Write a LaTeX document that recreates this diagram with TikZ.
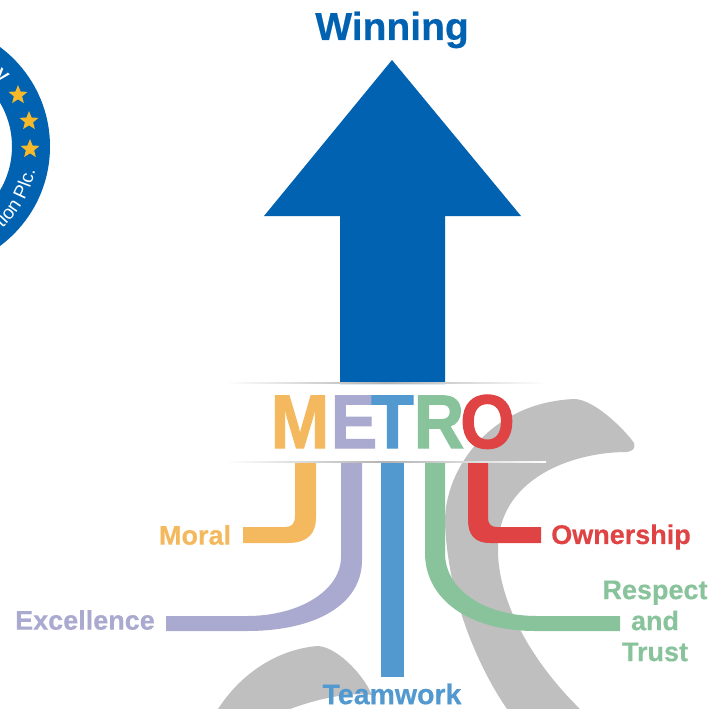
\documentclass[tikz,border=0pt]{standalone}
\usepackage{fontspec}
\setmainfont{Liberation Sans}
\newfontfamily\heavyfont{Liberation Sans Bold}[FakeBold=1.6]
\newfontfamily\labelfont{Liberation Sans Bold}[FakeBold=0.5]
\usetikzlibrary{shapes.geometric,decorations.text}
\definecolor{mblue}{HTML}{0062B0}
\definecolor{mgray}{HTML}{BFBFBF}
\definecolor{morange}{HTML}{F4B95F}
\definecolor{mpurple}{HTML}{AAA9D0}
\definecolor{msteel}{HTML}{5299D0}
\definecolor{mgreen}{HTML}{89C39C}
\definecolor{mred}{HTML}{DF4343}
\definecolor{mstar}{HTML}{F5B92B}
\tikzset{
  lab/.style={font=\labelfont\fontsize{27}{31}\selectfont,inner sep=0pt,align=center},
  letter/.style={font=\heavyfont\fontsize{76}{78}\selectfont,inner sep=0pt,anchor=base,xscale=0.92},
  staricon/.style={star,star points=5,star point ratio=2.3,fill=mstar,inner sep=0pt,minimum size=20pt}
}
\begin{document}
\begin{tikzpicture}[x=1pt,y=-1pt]
\useasboundingbox (0,0) rectangle (710,709);
% grey swooshes
\fill[mgray] (445,523) .. controls (444,470) and (490,402) .. (575,399)
  .. controls (595,400) and (625,430) .. (634,443)
  .. controls (636,449) and (632,451) .. (627,452)
  .. controls (570,452) and (497,480) .. (498,550)
  .. controls (498,600) and (530,660) .. (580,709)
  -- (507,709) .. controls (480,670) and (448,600) .. (445,523) -- cycle;
\fill[mgray] (218,709) .. controls (240,675) and (275,650) .. (317,646)
  .. controls (335,646) and (362,672) .. (372,695)
  .. controls (350,692) and (320,698) .. (290,709) -- cycle;
% logo
\fill[mblue,even odd rule] (-74,146.5) circle[radius=124] (-74,146.5) circle[radius=86];
\node[staricon] (s1) at (18,95) {};
\node[staricon] (s2) at (29,121) {};
\node[staricon] (s3) at (30,149) {};
\node[rotate=-40,text=white,font=\bfseries\fontsize{17}{19}\selectfont,inner sep=0pt] (logov) at (2,76) {V};
\path[decorate,decoration={text along path,text={|\fontsize{19}{21}\selectfont|tion Plc.},text color=white,text align={left}}]
  plot[domain=47:3,samples=30] ({-74+112*cos(\x)},{146.5+112*sin(\x)});
% arrow
\fill[mblue] (392,60) -- (521,216) -- (445,216) -- (445,384) -- (340,384) -- (340,216) -- (264,216) -- cycle;
\node[font=\labelfont\fontsize{39}{41}\selectfont,text=mblue,inner sep=0pt] (win) at (392,30) {Winning};
% banner rules
\shade[left color=white,right color=gray!60] (225,382.6) rectangle (385,383.8);
\shade[left color=gray!60,right color=white] (385,382.6) rectangle (546,383.8);
% stripes
\fill[morange] (295,462) -- (295,515) .. controls (295,524) and (292,527) .. (285,527) -- (243,527) -- (243,543) -- (288,543) .. controls (308,543) and (316,533) .. (316,518) -- (316,462) -- cycle;
\fill[mpurple] (341,462) -- (341,557) .. controls (341,590) and (300,616) .. (247,616) -- (166,616) -- (166,631) -- (247,631) .. controls (315,631) and (362,605) .. (362,560) -- (362,462) -- cycle;
\fill[msteel] (381,462) rectangle (404,677);
\fill[mgreen] (425,462) -- (425,553) .. controls (425,600) and (470,631) .. (535,631) -- (620,631) -- (620,616) -- (537,616) .. controls (485,616) and (445,590) .. (445,553) -- (445,462) -- cycle;
\fill[mred] (468,462) -- (468,520) .. controls (468,535) and (475,543) .. (490,543) -- (541,543) -- (541,527) -- (497,527) .. controls (491,527) and (488,524) .. (488,518) -- (488,462) -- cycle;
\shade[left color=white,right color=gray!60] (225,461.2) rectangle (385,462.4);
\shade[left color=gray!60,right color=white] (385,461.2) rectangle (546,462.4);
% METRO
\node[letter,text=morange] (lM) at (300,448) {M};
\node[letter,text=mpurple] (lE) at (354,448) {E};
\node[letter,text=msteel] (lT) at (392.5,448) {T};
\node[letter,text=mgreen] (lR) at (439,448) {R};
\node[letter,text=mred] (lO) at (487.5,448) {O};
% labels
\node[lab,text=morange] (moral) at (195,535) {Moral};
\node[lab,text=mpurple] (exc) at (85,620) {Excellence};
\node[lab,text=msteel,font=\labelfont\fontsize{28.5}{31}\selectfont] (team) at (392,694) {Teamwork};
\node[lab,text=mred] (own) at (621,537) {Ownership};
\node[lab,text=mgreen] (resp) at (655,621) {Respect\\and\\Trust};
\end{tikzpicture}
\end{document}
